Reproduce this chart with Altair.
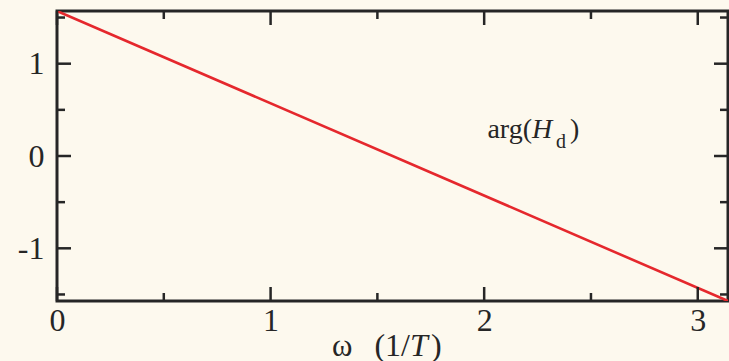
import altair as alt
import pandas as pd

# Phase response of the ideal delay: a straight line across one half period
omega = [0.0, 3.1416]
phase = [1.5708, -1.5708]

x_major = [0, 1, 2, 3]
x_minor = [0.5, 1.5, 2.5]
y_major = [-1, 0, 1]
y_minor = [-1.5, -0.5, 0.5, 1.5]

X_DOMAIN = [0.0, 3.1416]
Y_DOMAIN = [-1.5708, 1.5708]

W, H = 671, 290
INK = "#262626"
RED = "#e5282d"
BG = "#fdf9ee"
SERIF = "Liberation Serif"

xs = alt.Scale(domain=X_DOMAIN, nice=False, zero=False)
ys = alt.Scale(domain=Y_DOMAIN, nice=False, zero=False)

line_df = pd.DataFrame({"omega": omega, "phase": phase})

x_axis = alt.Axis(values=x_major, domain=False, ticks=False, grid=False,
                  labelFont=SERIF, labelFontSize=32, labelColor=INK,
                  labelPadding=4, labelFlush=False, title=None)
y_axis = alt.Axis(values=y_major, domain=False, ticks=False, grid=False,
                  labelFont=SERIF, labelFontSize=32, labelColor=INK,
                  labelPadding=13, labelFlush=False, title=None,
                  labelExpr="'' + datum.value")

curve = alt.Chart(line_df).mark_line(color=RED, strokeWidth=2.6, clip=True).encode(
    x=alt.X("omega:Q", scale=xs, axis=x_axis),
    y=alt.Y("phase:Q", scale=ys, axis=y_axis),
)


def x_ticks(vals, length, side):
    df = pd.DataFrame({"v": vals})
    if side == "bottom":
        y0, y1 = H, H - length
    else:
        y0, y1 = 0, length
    return alt.Chart(df).mark_rule(color=INK, strokeWidth=2.5).encode(
        x=alt.X("v:Q", scale=xs, axis=x_axis),
        y=alt.value(y0), y2=alt.value(y1),
    )


def y_ticks(vals, length, side):
    df = pd.DataFrame({"v": vals})
    if side == "left":
        x0, x1 = 0, length
    else:
        x0, x1 = W, W - length
    return alt.Chart(df).mark_rule(color=INK, strokeWidth=2.5).encode(
        y=alt.Y("v:Q", scale=ys, axis=y_axis),
        x=alt.value(x0), x2=alt.value(x1),
    )


ticks = [
    x_ticks(x_major, 14, "bottom"), x_ticks(x_minor, 8, "bottom"),
    x_ticks(x_major, 14, "top"), x_ticks(x_minor, 8, "top"),
    y_ticks(y_major, 14, "left"), y_ticks(y_minor, 8, "left"),
    y_ticks(y_major, 14, "right"), y_ticks(y_minor, 8, "right"),
]


def label(text, x, y, size, align="left", style="normal"):
    return alt.Chart(pd.DataFrame({"t": [text]})).mark_text(
        font=SERIF, fontSize=size, fontStyle=style, color=INK,
        align=align, baseline="alphabetic",
    ).encode(text="t:N", x=alt.value(x), y=alt.value(y))


# curve annotation: arg(H_d)
annot = [
    label("arg(", 475, 127, 28, align="right"),
    label("H", 475, 127, 28, style="italic"),
    label("d", 499, 137, 20),
    label(")", 513, 127, 28),
]

# x axis title: ω (1/T)
xtitle = [
    label("ω", 275, 345, 31),
    label("(1/", 353, 345, 32, align="right"),
    label("T", 353, 345, 32, style="italic"),
    label(")", 374, 345, 32),
]

chart = alt.layer(curve, *ticks, *annot, *xtitle).properties(
    width=W, height=H,
    background=BG,
    padding={"left": 57, "top": 11, "right": 1, "bottom": 60},
    autosize=alt.AutoSizeParams(type="none"),
).configure_view(stroke=INK, strokeWidth=3, fill=BG)

chart.save("out.html", embed_options={"renderer": "svg", "actions": False})
